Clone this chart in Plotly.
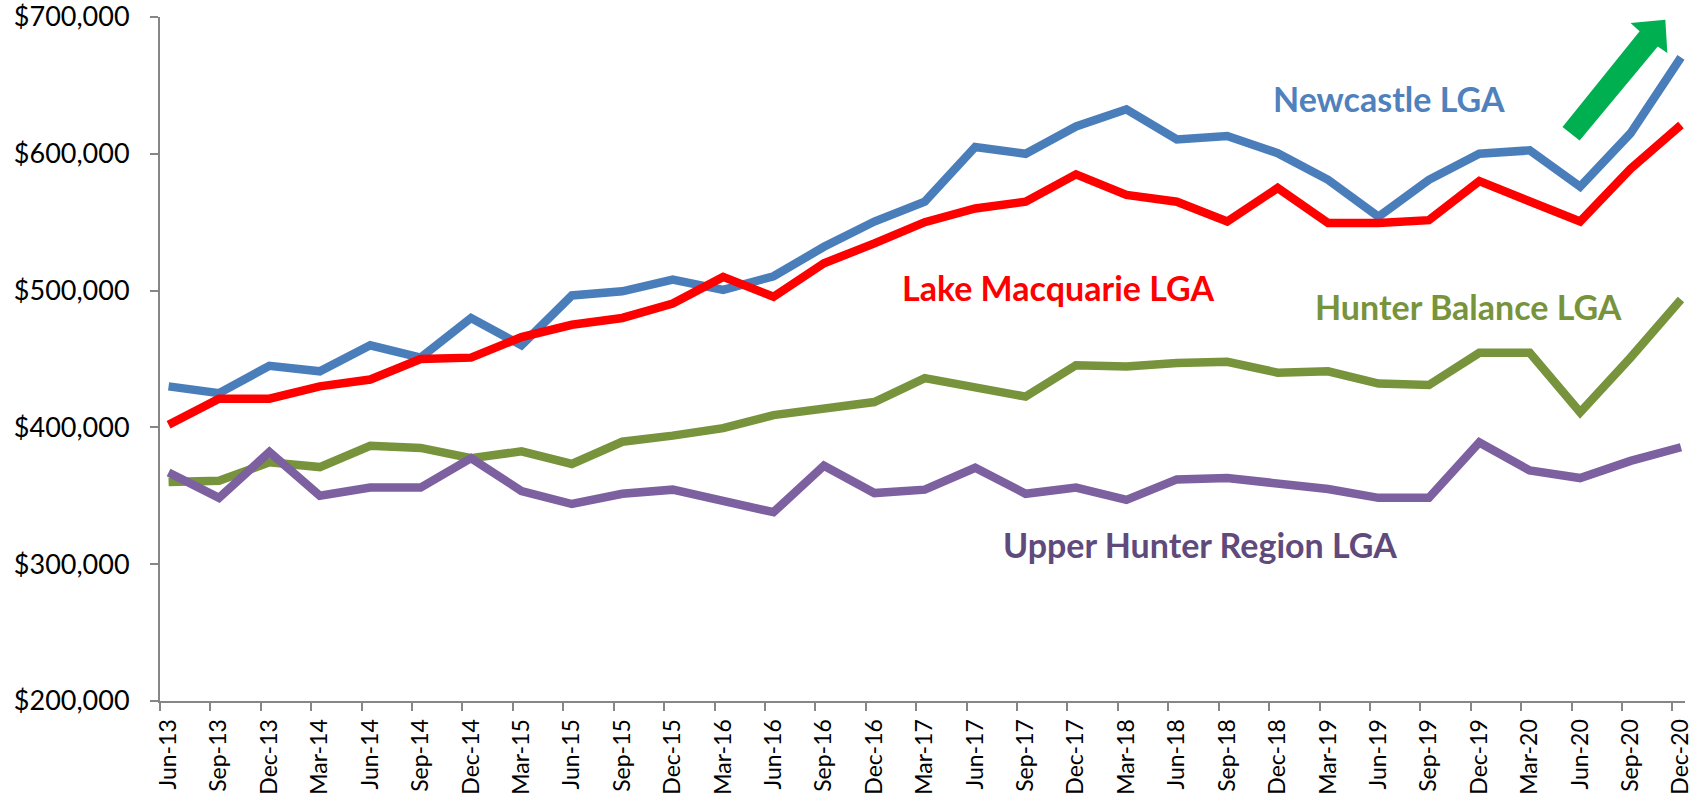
import plotly.graph_objects as go

quarters = ["Jun-13", "Sep-13", "Dec-13", "Mar-14", "Jun-14", "Sep-14", "Dec-14", "Mar-15",
            "Jun-15", "Sep-15", "Dec-15", "Mar-16", "Jun-16", "Sep-16", "Dec-16", "Mar-17",
            "Jun-17", "Sep-17", "Dec-17", "Mar-18", "Jun-18", "Sep-18", "Dec-18", "Mar-19",
            "Jun-19", "Sep-19", "Dec-19", "Mar-20", "Jun-20", "Sep-20", "Dec-20"]

newcastle = [430000, 425000, 445000, 441000, 460000, 451000, 480000, 460000,
             496500, 499500, 508000, 500500, 510500, 532000, 550500, 565000,
             605000, 600000, 620000, 632500, 610500, 613000, 600500, 581000,
             554000, 581000, 600000, 602500, 576000, 615000, 670500]

lake_macquarie = [402000, 421000, 421000, 430000, 435000, 450000, 451000, 466000,
                  475000, 480000, 490500, 510000, 495500, 520000, 534500, 550000,
                  560000, 565000, 585000, 570000, 565000, 550500, 575000, 549500,
                  549500, 551500, 580000, 566000, 550500, 589000, 621000]

hunter_balance = [360000, 361000, 374500, 371000, 386500, 385000, 377500, 382500,
                  373300, 389500, 394000, 399500, 409000, 413500, 418500, 436000,
                  430000, 422500, 445500, 444500, 447000, 448000, 440000, 441000,
                  432000, 431000, 454500, 454500, 411000, 451000, 493500]

upper_hunter = [367000, 348500, 382000, 350000, 356000, 356000, 377500, 353500,
                344000, 351500, 354500, 346000, 338000, 372000, 352000, 354500,
                370500, 351500, 356000, 347000, 362000, 363000, 358500, 355000,
                348500, 348500, 389000, 368500, 363000, 375500, 385500]

series_names = ["Newcastle LGA", "Lake Macquarie LGA", "Hunter Balance LGA", "Upper Hunter Region LGA"]
series_values = [newcastle, lake_macquarie, hunter_balance, upper_hunter]
line_colors = ["#4A7EBB", "#FF0000", "#77933C", "#7D60A0"]
label_colors = ["#4F81BD", "#FF0000", "#77933C", "#604A7B"]
# label anchor (category index, value)
label_pos = [(24.2, 640600), (17.64, 502300), (25.79, 488400), (20.45, 314200)]

y_ticks = [200000, 300000, 400000, 500000, 600000, 700000]

# green trend arrow outline (category index, value)
arrow_x = [29.69, 29.73, 29.54, 27.99, 27.65, 29.18, 29.00]
arrow_y = [698000, 673700, 678500, 609700, 619500, 689500, 695600]

idx = list(range(len(quarters)))
XR = [-0.17, 30.08]

fig = go.Figure()
for name, vals, col in zip(series_names, series_values, line_colors):
    fig.add_trace(go.Scatter(x=idx, y=vals, mode="lines", name=name,
                             line=dict(color=col, width=8.5), showlegend=False,
                             hoverinfo="skip"))

# invisible trace to host offset tick axis
fig.add_trace(go.Scatter(x=[0], y=[None], xaxis="x2", yaxis="y", mode="lines",
                         showlegend=False, hoverinfo="skip"))

path = "M " + " L ".join(f"{x},{y}" for x, y in zip(arrow_x, arrow_y)) + " Z"
fig.add_shape(type="path", path=path, xref="x", yref="y",
              fillcolor="#00B050", line=dict(width=0))

for name, (lx, ly), col in zip(series_names, label_pos, label_colors):
    fig.add_annotation(x=lx, y=ly, xref="x", yref="y", text=f"<b>{name}</b>",
                       showarrow=False, xanchor="center", yanchor="middle",
                       font=dict(family="Lato", size=34, color=col))

fig.update_layout(
    width=1700, height=799,
    margin=dict(l=160, r=15, t=17, b=98),
    paper_bgcolor="white", plot_bgcolor="white",
    font=dict(family="Lato", color="black"),
    xaxis=dict(range=XR, tickmode="array", tickvals=idx, ticktext=quarters,
               tickangle=-90, ticks="", showgrid=False, zeroline=False,
               showline=True, linecolor="#868686", linewidth=2, automargin=False,
               tickfont=dict(family="Lato", size=23, color="black"),
               ticklabelstandoff=7, ticklabeloverflow="allow"),
    xaxis2=dict(range=XR, overlaying="x", anchor="y", side="bottom",
                tickmode="array", tickvals=[i - 0.17 for i in idx],
                ticks="outside", ticklen=9, tickwidth=2, tickcolor="#868686",
                automargin=False,
                showticklabels=False, showgrid=False, zeroline=False, showline=False),
    yaxis=dict(range=[200000, 700000], tickmode="array", tickvals=y_ticks,
               tickformat="$,.0f", ticks="outside", ticklen=8, tickwidth=2,
               tickcolor="#868686", showgrid=False, zeroline=False,
               showline=True, linecolor="#868686", linewidth=2, automargin=False,
               tickfont=dict(family="Lato", size=27, color="black"),
               ticklabelstandoff=15, ticklabeloverflow="allow"),
)

fig.write_html("out.html", config={"displayModeBar": False},
               post_script="document.body.style.margin='0';document.body.style.overflow='hidden';")
